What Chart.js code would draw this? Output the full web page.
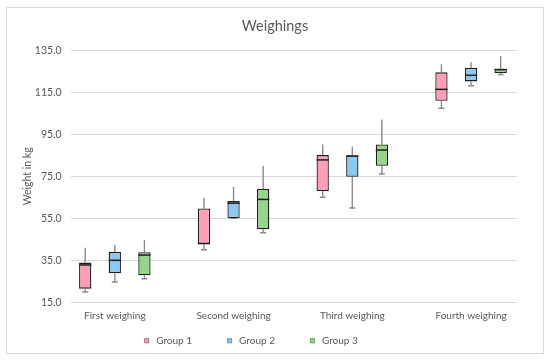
<!DOCTYPE html>
<html>
<head>
<meta charset="utf-8">
<title>Weighings</title>
<script src="https://cdn.jsdelivr.net/npm/chart.js@4.4.1/dist/chart.umd.min.js"></script>
<style>
  html, body { margin: 0; padding: 0; background: #fff; }
</style>
</head>
<body>
<canvas id="weighChart" width="550" height="360"></canvas>
<script>
// categories + box-plot stats (kg)
const categories = ['First weighing', 'Second weighing', 'Third weighing', 'Fourth weighing'];
const groupNames = ['Group 1', 'Group 2', 'Group 3'];

const g1Min    = [19.9, 40.0, 65.0, 107.4];
const g1Q1     = [21.5, 42.7, 68.0, 111.0];
const g1Median = [32.8, 43.0, 82.8, 116.4];
const g1Q3     = [33.9, 59.7, 85.1, 124.5];
const g1Max    = [41.0, 64.8, 90.2, 128.3];

const g2Min    = [24.7, 55.0, 59.9, 118.1];
const g2Q1     = [28.8, 55.0, 74.8, 120.2];
const g2Median = [35.0, 62.2, 84.6, 123.1];
const g2Q3     = [39.1, 63.2, 85.0, 126.6];
const g2Max    = [42.3, 70.0, 89.1, 129.3];

const g3Min    = [26.2, 48.1, 76.1, 123.4];
const g3Q1     = [27.9, 49.8, 80.0, 124.2];
const g3Median = [37.5, 64.0, 87.5, 125.8];
const g3Q3     = [38.8, 69.0, 90.2, 126.2];
const g3Max    = [44.7, 80.0, 102.1, 132.3];

const yTicks = [15, 35, 55, 75, 95, 115, 135];

const fillColors = ['#FF9FB7', '#8FC8EE', '#96D68B'];
const edgeColors = ['#B07890', '#6E9EC4', '#70A868'];
const textColor = '#595959';
const fontFamily = 'Lato, "Liberation Sans", sans-serif';

const stats = [
    { min: g1Min, q1: g1Q1, median: g1Median, q3: g1Q3, max: g1Max },
    { min: g2Min, q1: g2Q1, median: g2Median, q3: g2Q3, max: g2Max },
    { min: g3Min, q1: g3Q1, median: g3Median, q3: g3Q3, max: g3Max }
];

// boxes are floating bars q1..q3, one point per weighing (x = category index)
const datasets = stats.map(function(s, i) {
    return {
        label: groupNames[i],
        data: s.q1.map(function(v, j) { return { x: j, y: [v, s.q3[j]] }; }),
        backgroundColor: fillColors[i],
        borderColor: '#1e1e1e',
        borderWidth: 1.3,
        borderSkipped: false,
        categoryPercentage: 0.748,
        barPercentage: 0.415
    };
});

// frame, whiskers, medians and the legend row
const boxPlotPlugin = {
    id: 'boxPlot',
    beforeDraw: function(chart) {
        const ctx = chart.ctx;
        ctx.save();
        ctx.fillStyle = '#fff';
        ctx.fillRect(0, 0, chart.width, chart.height);
        ctx.strokeStyle = '#d9d9d9';
        ctx.lineWidth = 1;
        ctx.strokeRect(6.5, 7.5, 537, 346);
        ctx.restore();
    },
    beforeDatasetsDraw: function(chart) {
        const ctx = chart.ctx;
        const y = chart.scales.y;
        ctx.save();
        ctx.strokeStyle = '#8a8a8a';
        ctx.lineWidth = 1.4;
        stats.forEach(function(s, i) {
            chart.getDatasetMeta(i).data.forEach(function(bar, j) {
                const x = bar.x;
                const pb = y.getPixelForValue(s.min[j]);
                ctx.beginPath();
                ctx.moveTo(x, y.getPixelForValue(s.max[j]));
                ctx.lineTo(x, y.getPixelForValue(s.q3[j]));
                ctx.moveTo(x, y.getPixelForValue(s.q1[j]));
                ctx.lineTo(x, pb);
                ctx.moveTo(x - 3, pb);
                ctx.lineTo(x + 3, pb);
                ctx.stroke();
            });
        });
        ctx.restore();
    },
    afterDatasetsDraw: function(chart) {
        const ctx = chart.ctx;
        const y = chart.scales.y;
        ctx.save();
        ctx.strokeStyle = '#1e1e1e';
        ctx.lineWidth = 1.5;
        stats.forEach(function(s, i) {
            chart.getDatasetMeta(i).data.forEach(function(bar, j) {
                const py = y.getPixelForValue(s.median[j]);
                ctx.beginPath();
                ctx.moveTo(bar.x - bar.width / 2, py);
                ctx.lineTo(bar.x + bar.width / 2, py);
                ctx.stroke();
            });
        });
        ctx.restore();
    },
    afterDraw: function(chart) {
        const ctx = chart.ctx;
        const gap = 35, box = 5, textGap = 7, cy = 340.7;
        ctx.save();
        ctx.font = '10px ' + fontFamily;
        ctx.textBaseline = 'middle';
        ctx.textAlign = 'left';
        const widths = chart.data.datasets.map(function(ds) {
            return box + textGap + ctx.measureText(ds.label).width;
        });
        const total = widths.reduce(function(a, b) { return a + b; }, 0) + gap * (widths.length - 1);
        let x = 251 - total / 2;
        chart.data.datasets.forEach(function(ds, i) {
            ctx.fillStyle = fillColors[i];
            ctx.fillRect(x, cy - box / 2, box, box);
            ctx.strokeStyle = edgeColors[i];
            ctx.lineWidth = 1;
            ctx.strokeRect(x + 0.5, cy - box / 2 + 0.5, box - 1, box - 1);
            ctx.fillStyle = textColor;
            ctx.fillText(ds.label, x + box + textGap, cy);
            x += widths[i] + gap;
        });
        ctx.restore();
    }
};

new Chart(document.getElementById('weighChart').getContext('2d'), {
    type: 'bar',
    data: { datasets: datasets },
    plugins: [boxPlotPlugin],
    options: {
        responsive: false,
        animation: false,
        layout: { padding: { left: 33, right: 33, top: 0, bottom: 35.7 } },
        plugins: {
            title: {
                display: true,
                text: 'Weighings',
                color: textColor,
                font: { family: fontFamily, size: 14.5, weight: 'normal' },
                padding: { top: 17.9, bottom: 15.0 }
            },
            legend: { display: false },
            tooltip: { enabled: false }
        },
        scales: {
            x: {
                type: 'linear',
                min: -0.369,
                max: 3.387,
                bounds: 'data',
                offset: false,
                grid: { display: false, offset: false, drawTicks: false, tickLength: 0 },
                border: { display: false },
                afterBuildTicks: function(scale) {
                    scale.ticks = categories.map(function(c, j) { return { value: j }; });
                },
                ticks: {
                    autoSkip: false,
                    color: textColor,
                    font: { family: fontFamily, size: 10 },
                    padding: 7.4,
                    maxRotation: 0,
                    callback: function(v) { return categories[Math.round(v)]; }
                },
                afterFit: function(scale) { scale.height = 22; }
            },
            y: {
                min: 15,
                max: 135,
                grid: { color: '#d9d9d9', lineWidth: 1, drawTicks: false },
                border: { display: false },
                afterBuildTicks: function(scale) {
                    scale.ticks = yTicks.map(function(v) { return { value: v }; });
                },
                ticks: {
                    color: textColor,
                    font: { family: fontFamily, size: 10.5 },
                    padding: 9.3,
                    callback: function(v) { return Number(v).toFixed(1); }
                },
                title: {
                    display: true,
                    text: 'Weight in kg',
                    color: textColor,
                    font: { family: fontFamily, size: 10.5 },
                    padding: { top: -11.3, bottom: 0 }
                },
                afterFit: function(scale) { scale.width = 38; }
            }
        }
    }
});
</script>
</body>
</html>
